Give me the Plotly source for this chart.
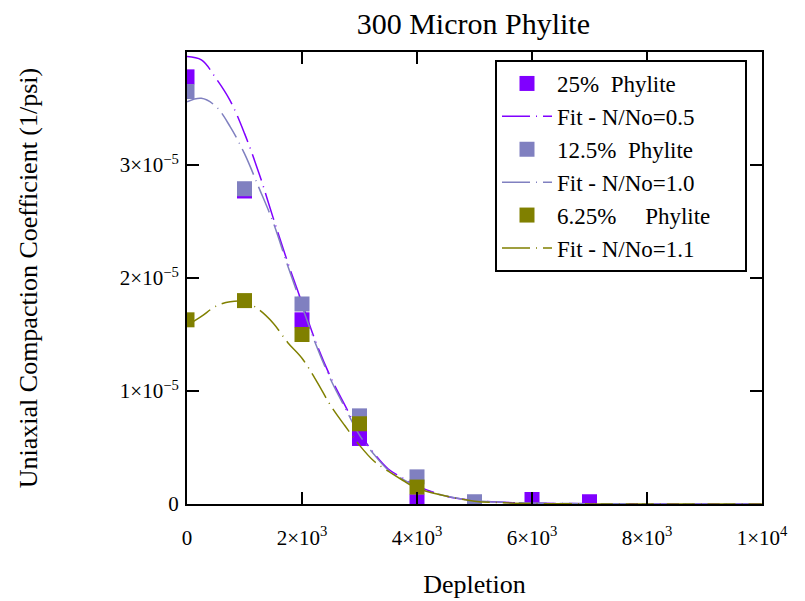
import plotly.graph_objects as go

# ---- data (values in 1/psi) ----
x_25 = [0, 1000, 2000, 3000, 4000, 6000, 7000]
y_25 = [3.78e-5, 2.77e-5, 1.63e-5, 0.58e-5, 0.02e-5, 0.04e-5, 0.02e-5]

x_125 = [0, 1000, 2000, 3000, 4000, 5000]
y_125 = [3.65e-5, 2.79e-5, 1.77e-5, 0.78e-5, 0.24e-5, 0.02e-5]

x_625 = [0, 1000, 2000, 3000, 4000]
y_625 = [1.63e-5, 1.80e-5, 1.50e-5, 0.71e-5, 0.15e-5]

x_fit = [0, 250, 500, 750, 1000, 1250, 1500, 1750, 2000, 2250, 2500, 2750,
         3000, 3250, 3500, 3750, 4000, 4500, 5000, 5500, 6000, 7000, 8000,
         9000, 10000]
fit_05 = [3.96e-5, 3.93e-5, 3.77e-5, 3.57e-5, 3.28e-5, 2.93e-5, 2.53e-5,
          2.14e-5, 1.78e-5, 1.42e-5, 1.12e-5, 0.87e-5, 0.63e-5, 0.45e-5,
          0.31e-5, 0.23e-5, 0.16e-5, 0.07e-5, 0.03e-5, 0.015e-5, 0.008e-5,
          0.003e-5, 0.001e-5, 0.0, 0.0]
fit_10 = [3.56e-5, 3.59e-5, 3.52e-5, 3.34e-5, 3.10e-5, 2.80e-5, 2.49e-5,
          2.11e-5, 1.75e-5, 1.40e-5, 1.10e-5, 0.85e-5, 0.61e-5, 0.44e-5,
          0.30e-5, 0.22e-5, 0.15e-5, 0.07e-5, 0.03e-5, 0.015e-5, 0.008e-5,
          0.003e-5, 0.001e-5, 0.0, 0.0]
fit_11 = [1.58e-5, 1.66e-5, 1.75e-5, 1.79e-5, 1.79e-5, 1.72e-5, 1.60e-5,
          1.43e-5, 1.29e-5, 1.09e-5, 0.87e-5, 0.69e-5, 0.52e-5, 0.38e-5,
          0.29e-5, 0.21e-5, 0.14e-5, 0.07e-5, 0.025e-5, 0.01e-5, 0.004e-5,
          0.001e-5, 0.0, 0.0, 0.0]

series_names = ["25%  Phylite", "Fit - N/No=0.5", "12.5%  Phylite",
                "Fit - N/No=1.0", "6.25%     Phylite", "Fit - N/No=1.1"]

x_ticks = [0, 2000, 4000, 6000, 8000, 10000]
x_ticktext = ["0", "2×10<sup>3</sup>", "4×10<sup>3</sup>", "6×10<sup>3</sup>",
              "8×10<sup>3</sup>", "1×10<sup>4</sup>"]
y_ticks = [0, 1e-5, 2e-5, 3e-5]
y_ticktext = ["0", "1×10<sup>−5</sup>", "2×10<sup>−5</sup>", "3×10<sup>−5</sup>"]

PURPLE = "#8000FF"
LAV = "#8080C0"
OLIVE = "#808000"
DASH = "28px,6px,1px,6px"
FONT = "Liberation Serif"
PAD = "\u00a0" * 5  # invisible padding to widen the legend box

fig = go.Figure()
fig.add_trace(go.Scatter(x=x_25, y=y_25, mode="markers", name=series_names[0] + PAD,
                         cliponaxis=True,
                         marker=dict(symbol="square", size=15, color=PURPLE)))
fig.add_trace(go.Scatter(x=x_fit, y=fit_05, mode="lines", name=series_names[1] + PAD,
                         line=dict(color=PURPLE, width=1.5, dash=DASH, shape="spline")))
fig.add_trace(go.Scatter(x=x_125, y=y_125, mode="markers", name=series_names[2] + PAD,
                         cliponaxis=True,
                         marker=dict(symbol="square", size=15, color=LAV)))
fig.add_trace(go.Scatter(x=x_fit, y=fit_10, mode="lines", name=series_names[3] + PAD,
                         line=dict(color=LAV, width=1.5, dash=DASH, shape="spline")))
fig.add_trace(go.Scatter(x=x_625, y=y_625, mode="markers", name=series_names[4] + PAD,
                         cliponaxis=True,
                         marker=dict(symbol="square", size=15, color=OLIVE)))
fig.add_trace(go.Scatter(x=x_fit, y=fit_11, mode="lines", name=series_names[5] + PAD,
                         line=dict(color=OLIVE, width=1.5, dash=DASH, shape="spline")))

axis_common = dict(showgrid=False, zeroline=False, showline=True, linecolor="black",
                   linewidth=2, mirror="ticks", ticks="inside", ticklen=12,
                   tickwidth=2, tickcolor="black",
                   tickfont=dict(family=FONT, size=21, color="black"))

# page body adds an 8px offset; margins compensate so the plot area lands at
# x 187..762, y 52..504 on screen
fig.update_layout(
    width=805, height=601,
    paper_bgcolor="white", plot_bgcolor="white",
    margin=dict(l=179, r=51, t=44, b=105),
    font=dict(family=FONT, color="black"),
    title=dict(text="300 Micron Phylite", x=0.578, xanchor="center",
               y=0.975, yanchor="middle", font=dict(family=FONT, size=30, color="black")),
    xaxis=dict(range=[0, 10000], tickvals=x_ticks, ticktext=x_ticktext,
               ticklabelstandoff=14,
               title=dict(text="Depletion", standoff=26,
                          font=dict(family=FONT, size=26, color="black")),
               **axis_common),
    yaxis=dict(range=[0, 4e-5], tickvals=y_ticks, ticktext=y_ticktext,
               ticklabelstandoff=2,
               title=dict(text="Uniaxial Compaction Coefficient (1/psi)", standoff=75,
                          font=dict(family=FONT, size=26, color="black")),
               **axis_common),
    legend=dict(x=(495 - 187) / 575, xanchor="left", y=(504 - 60) / 452, yanchor="top",
                bordercolor="black", borderwidth=2, bgcolor="white",
                font=dict(family=FONT, size=23, color="black"),
                itemwidth=50, tracegroupgap=0),
    showlegend=True,
)

fig.write_html("out.html")
